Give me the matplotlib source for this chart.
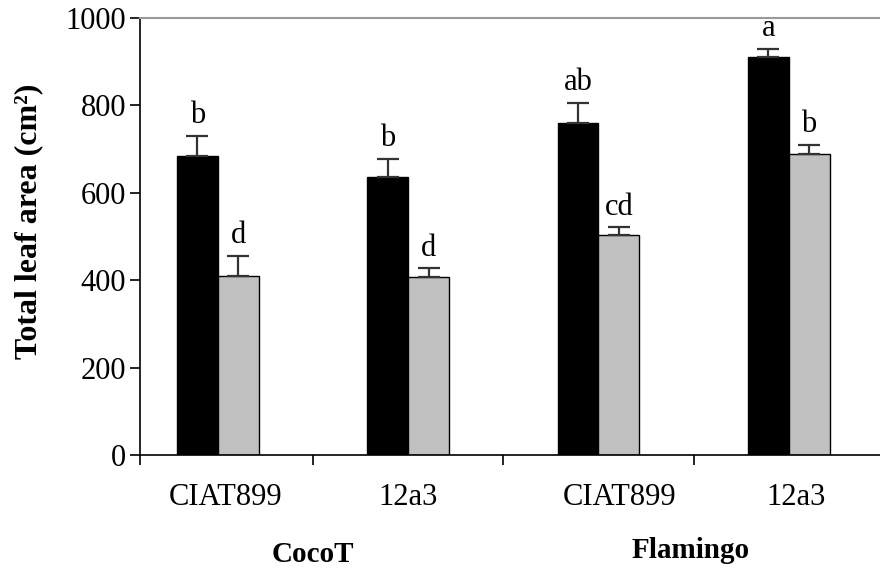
import numpy as np
import matplotlib
matplotlib.use('Agg')
import matplotlib.pyplot as plt

plt.rcParams['font.family'] = ['Liberation Serif', 'DejaVu Serif']

cultivars = ['CIAT899', '12a3', 'CIAT899', '12a3']
groups = ['CocoT', 'Flamingo']
black_vals = [684, 635, 760, 910]
black_err = [46, 43, 46, 19]
gray_vals = [409, 408, 503, 688]
gray_err = [47, 19, 18, 21]
black_letters = ['b', 'b', 'ab', 'a']
gray_letters = ['d', 'd', 'cd', 'b']

fig = plt.figure(figsize=(8.8, 5.69), dpi=100)
ax = fig.add_axes([0.159, 0.2, 0.841, 0.769])

x = np.arange(len(cultivars))
w = 0.215
ekw = dict(ecolor='#333333', elinewidth=1.6, capthick=1.6)
ax.bar(x - w / 2, black_vals, w, color='black', edgecolor='black', linewidth=1)
ax.bar(x + w / 2, gray_vals, w, color='#c0c0c0', edgecolor='black', linewidth=1)
ax.errorbar(x - w / 2, black_vals, yerr=[np.zeros(4), black_err], fmt='none',
            capsize=8, **ekw)
ax.errorbar(x + w / 2, gray_vals, yerr=[np.zeros(4), gray_err], fmt='none',
            capsize=8, **ekw)

for i in range(len(x)):
    ax.annotate(black_letters[i], (x[i] - w / 2, black_vals[i] + black_err[i]),
                xytext=(0, 4), textcoords='offset points', ha='center',
                va='bottom', fontsize=22)
    ax.annotate(gray_letters[i], (x[i] + w / 2, gray_vals[i] + gray_err[i]),
                xytext=(0, 4), textcoords='offset points', ha='center',
                va='bottom', fontsize=22)

ax.set_xlim(-0.41, 3.48)
ax.set_ylim(0, 1000)
ax.set_yticks(range(0, 1001, 200))
ax.tick_params(axis='y', labelsize=22, length=7, width=1.2, pad=3)
# labels sit a little right of the bar pairs, as in the original
ax.set_xticks(x + np.array([0.04, 0.0, 0.11, 0.04]))
ax.set_xticklabels(cultivars)
ax.tick_params(axis='x', which='major', length=0, labelsize=22, pad=20)
ax.set_xticks([-0.41, 0.5, 1.5, 2.5], minor=True)
ax.tick_params(axis='x', which='minor', length=7, width=1.2)

ax.spines['right'].set_visible(False)
ax.spines['top'].set_color('#999999')
ax.spines['top'].set_linewidth(1.5)
ax.spines['left'].set_linewidth(1.2)
ax.spines['bottom'].set_linewidth(1.2)

ax.set_ylabel('Total leaf area (cm²)', fontsize=23, fontweight='bold')
ax.yaxis.set_label_coords(-0.131, 0.535)

fig.text(313 / 880, 1 - 554 / 569, groups[0], ha='center', va='center',
         fontsize=21, fontweight='bold')
fig.text(691 / 880, 1 - 550 / 569, groups[1], ha='center', va='center',
         fontsize=21, fontweight='bold')

fig.savefig('out.png', dpi=100)
